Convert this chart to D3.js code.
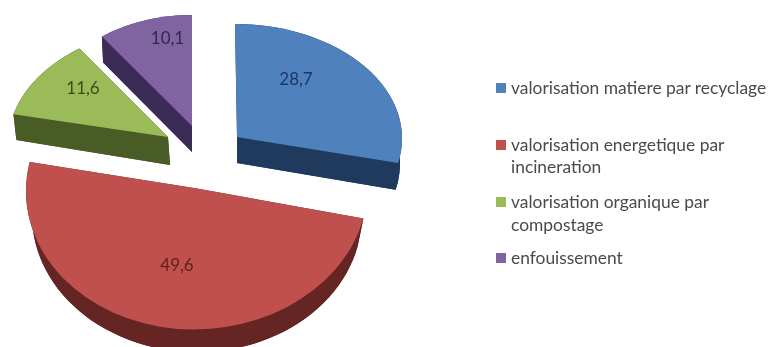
<!DOCTYPE html>
<html><head><meta charset="utf-8">
<script src="https://cdn.jsdelivr.net/npm/d3@7"></script>
<style>html,body{margin:0;padding:0;background:#fff;overflow:hidden}svg{display:block;filter:blur(0.45px)}text{font-family:Lato,"Open Sans",sans-serif}</style>
</head><body><svg id="c" width="771" height="347"></svg>
<script>
const categories = ["valorisation matiere par recyclage","valorisation energetique par incineration","valorisation organique par compostage","enfouissement"];
const values = [28.7,49.6,11.6,10.1];
const valueLabels = ["28,7","49,6","11,6","10,1"];
const topColors = ["#4f81bd","#c0504d","#9bbb59","#8064a2"];
const sideColors = ["#1f3a5c","#642523","#4a5c26","#3c2a57"];
const labelColors = ["#1c3762","#5e1f1f","#3c4c1e","#35264f"];
const legendLines = [["valorisation matiere par recyclage"],["valorisation energetique par","incineration"],["valorisation organique par","compostage"],["enfouissement"]];

// perspective geometry of each exploded slice (sx, sy: shear of the top face)
const geom = [
 {cx:237,cy:137,rx:165,ry:113,sx:-2,sy:0,bx:237,by:163,brx:163,bry:116,lx:296,ly:81},
 {cx:197,cy:188.5,rx:171,ry:141,sx:0,sy:-2.5,bx:197,by:215,brx:165,bry:137,lx:177,ly:267},
 {cx:168,cy:137,rx:159.5,ry:110,sx:7.5,sy:0,bx:170,by:165,brx:157,bry:122,lx:83,ly:90},
 {cx:192,cy:126,rx:152,ry:111,sx:0,sy:0,bx:192,by:152,brx:150,bry:111,lx:167.5,ly:40}
];
const legendPos = [{sq:88,t:[89.5]},{sq:145,t:[146.5,168.5]},{sq:202,t:[203.5,226.5]},{sq:258,t:[259.5]}];

const svg = d3.select("#c");
const pie = d3.pie().sort(null).startAngle(0).endAngle(2*Math.PI);
const arcs = pie(values);
const arc = d3.arc().innerRadius(0).outerRadius(100);
const line = d3.line();
const pt = (g,a,bottom)=> bottom
  ? [g.bx+g.brx*Math.sin(a), g.by-g.bry*Math.cos(a)]
  : [g.cx+g.rx*Math.sin(a)+g.sx*Math.cos(a), g.cy-g.ry*Math.cos(a)+g.sy*Math.sin(a)];
const draw = [1,0,2,3];
draw.forEach(i=>{
  const d=arcs[i], g=geom[i];
  const n=60, angs=d3.range(n+1).map(k=>d.startAngle+(d.endAngle-d.startAngle)*k/n);
  const ls=svg.append("g");
  const wedge=b=>[b?[g.bx,g.by]:[g.cx,g.cy],...angs.map(a=>pt(g,a,b))];
  ls.append("path").attr("d",line(wedge(true))+"Z").attr("fill",sideColors[i]);
  ls.append("path").attr("d",line([...angs.map(a=>pt(g,a,false)),...angs.slice().reverse().map(a=>pt(g,a,true))])+"Z").attr("fill",sideColors[i]);
  [d.startAngle,d.endAngle].forEach(a=>{
    ls.append("path").attr("d",line([[g.cx,g.cy],pt(g,a,false),pt(g,a,true),[g.bx,g.by]])+"Z").attr("fill",sideColors[i]);
  });
  ls.append("path").attr("d",arc(d))
    .attr("transform",`matrix(${g.rx/100},${g.sy/100},${-g.sx/100},${g.ry/100},${g.cx},${g.cy})`)
    .attr("fill",topColors[i]);
});
valueLabels.forEach((t,i)=>{
  svg.append("text").attr("x",geom[i].lx).attr("y",geom[i].ly).attr("text-anchor","middle")
    .attr("dominant-baseline","middle").attr("font-size",17).attr("fill",labelColors[i]).text(t);
});
categories.forEach((c,i)=>{
  svg.append("rect").attr("x",496).attr("y",legendPos[i].sq-5).attr("width",10).attr("height",10).attr("fill",topColors[i]);
  legendLines[i].forEach((l,j)=>{
    svg.append("text").attr("x",511).attr("y",legendPos[i].t[j]).attr("dominant-baseline","middle")
      .attr("font-size",17.4).attr("fill","#4a4a4a").text(l);
  });
});
</script></body></html>
